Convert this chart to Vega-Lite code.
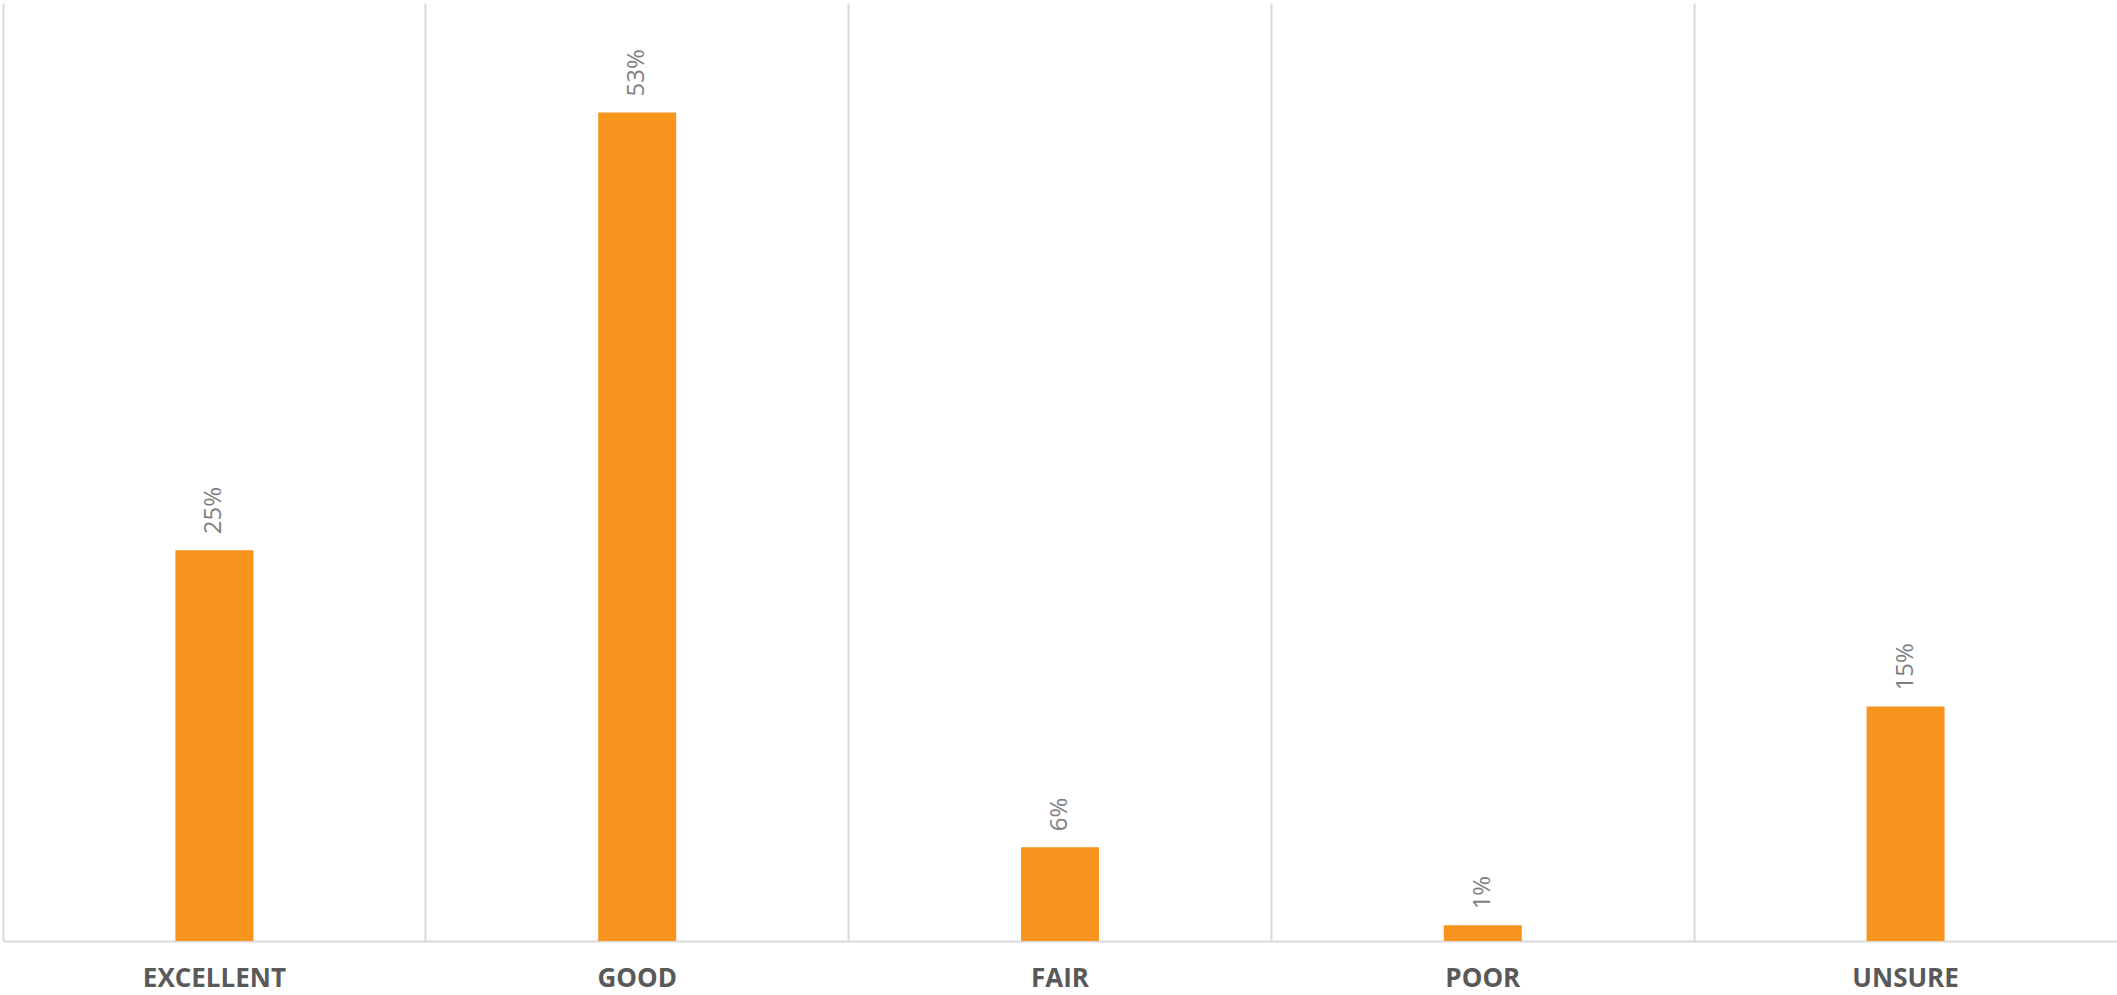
{
  "$schema": "https://vega.github.io/schema/vega-lite/v6.json",
  "width": 2114,
  "height": 938,
  "autosize": {"type": "none"},
  "padding": {"left": 3, "top": 3, "right": 0, "bottom": 54},
  "background": "white",
  "config": {"view": {"stroke": null}},
  "data": {
    "values": [
      {"rating": "EXCELLENT", "pct": 0.25},
      {"rating": "GOOD", "pct": 0.53},
      {"rating": "FAIR", "pct": 0.06},
      {"rating": "POOR", "pct": 0.01},
      {"rating": "UNSURE", "pct": 0.15}
    ]
  },
  "encoding": {
    "x": {
      "field": "rating",
      "type": "nominal",
      "sort": null,
      "scale": {"paddingInner": 0, "paddingOuter": 0},
      "axis": {
        "title": null,
        "labelAngle": 0,
        "labelFont": "Open Sans",
        "labelFontWeight": "bold",
        "labelFontSize": 26,
        "labelColor": "#595959",
        "labelPadding": 24,
        "labelBaseline": "top",
        "ticks": false,
        "domainColor": "#d9d9d9",
        "domainWidth": 2,
        "grid": true,
        "gridColor": "#d9d9d9",
        "gridWidth": 2,
        "bandPosition": 0
      }
    },
    "y": {
      "field": "pct",
      "type": "quantitative",
      "scale": {"domain": [0, 0.6], "nice": false},
      "axis": null
    }
  },
  "layer": [
    {
      "mark": {"type": "bar", "color": "#F7941D", "size": 78}
    },
    {
      "mark": {
        "type": "text",
        "angle": 270,
        "align": "left",
        "baseline": "middle",
        "dx": 16,
        "font": "Open Sans",
        "fontSize": 24,
        "color": "#7f7f7f"
      },
      "encoding": {
        "text": {"field": "pct", "type": "quantitative", "format": ".0%"},
        "detail": {"field": "rating"}
      }
    }
  ]
}
